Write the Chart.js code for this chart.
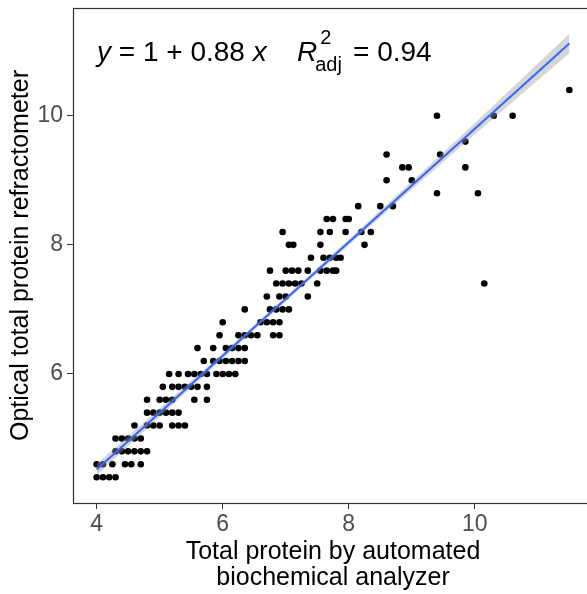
<!DOCTYPE html>
<html>
<head>
<meta charset="utf-8">
<script src="https://cdn.jsdelivr.net/npm/chart.js@4.4.1/dist/chart.umd.min.js"></script>
<style>
  html, body { margin: 0; padding: 0; background: #fff; overflow: hidden; }
  #wrap { width: 600px; height: 594px; }
</style>
</head>
<body>
<div id="wrap"><canvas id="myChart" width="600" height="594"></canvas></div>
<script>
// refractometer readings (y) come in 0.2 steps, analyzer values (x) listed per reading
const refractLevels = [4.4, 4.6, 4.8, 5.0, 5.2, 5.4, 5.6, 5.8, 6.0, 6.2, 6.4, 6.6, 6.8, 7.0,
  7.2, 7.4, 7.6, 7.8, 8.0, 8.2, 8.4, 8.6, 8.8, 9.0, 9.2, 9.4, 9.6, 10.0, 10.4];
const analyzerAtLevel = [
  [4.0, 4.1, 4.2, 4.3],
  [4.0, 4.1, 4.25, 4.45, 4.55, 4.7],
  [4.3, 4.4, 4.5, 4.6, 4.7, 4.8],
  [4.3, 4.4, 4.5, 4.6, 4.7],
  [4.6, 4.8, 4.9, 5.0, 5.2, 5.3, 5.4],
  [4.8, 4.9, 5.0, 5.1, 5.2, 5.3],
  [4.8, 5.0, 5.1, 5.2, 5.55, 5.75],
  [5.05, 5.2, 5.3, 5.4, 5.5, 5.6, 5.75],
  [5.15, 5.3, 5.45, 5.55, 5.65, 5.75, 5.9, 6.0, 6.1, 6.2],
  [5.7, 5.85, 5.95, 6.05, 6.15, 6.25, 6.35],
  [5.6, 5.85, 6.05, 6.15, 6.25, 6.35],
  [5.95, 6.25, 6.35, 6.45, 6.55, 6.8, 6.9],
  [6.0, 6.6, 6.7, 6.8, 6.9],
  [6.35, 6.75, 6.85, 6.95, 7.05],
  [6.7, 6.9, 7.0, 7.35],
  [6.85, 6.95, 7.05, 7.15, 7.25, 7.5, 10.15],
  [6.75, 7.0, 7.1, 7.2, 7.35, 7.55, 7.65, 7.75, 7.8],
  [7.4, 7.6, 7.7, 7.8, 7.87],
  [7.05, 7.12, 7.55, 8.25],
  [6.95, 7.55, 7.7, 7.95, 8.2, 8.35],
  [7.65, 7.75, 7.95, 8.0],
  [8.15, 8.5, 8.7],
  [9.4, 10.05],
  [8.6, 9.0],
  [8.85, 8.95, 9.85],
  [8.6, 9.45],
  [9.85],
  [9.4, 10.3, 10.6],
  [11.5]
];

// fitted line y = 1 + 0.88x and its confidence band
const fitX = [4.0, 5.0, 6.0, 7.0, 8.0, 9.0, 10.0, 11.0, 11.5];
const fitY = [4.52, 5.40, 6.28, 7.16, 8.04, 8.92, 9.80, 10.68, 11.12];
const bandLow = [4.43, 5.335, 6.24, 7.125, 7.995, 8.86, 9.71, 10.55, 10.97];
const bandHigh = [4.61, 5.465, 6.32, 7.195, 8.085, 8.98, 9.89, 10.81, 11.27];

const xTicks = [4, 6, 8, 10];
const yTicks = [6, 8, 10];

const FONT = '"Liberation Sans", Arial, sans-serif';

const points = [];
refractLevels.forEach((y, i) => {
  analyzerAtLevel[i].forEach((x) => points.push({ x: x, y: y }));
});
const toXY = (xs, ys) => xs.map((x, i) => ({ x: x, y: ys[i] }));

const panelBox = {
  id: 'panelBox',
  afterDatasetsDraw(chart) {
    const { ctx, chartArea: a } = chart;
    ctx.save();
    ctx.strokeStyle = '#333333';
    ctx.lineWidth = 1.2;
    ctx.strokeRect(a.left + 0.5, a.top + 0.5, a.right - a.left, a.bottom - a.top);
    ctx.restore();
  }
};

const eqLabel = {
  id: 'eqLabel',
  afterDraw(chart) {
    const c = chart.ctx;
    c.save();
    c.fillStyle = '#000';
    c.textBaseline = 'alphabetic';
    const base = 61;
    let x = 97;
    const parts = [['y', 'italic'], [' = 1 + 0.88 ', 'normal'], ['x', 'italic']];
    parts.forEach(([t, st]) => {
      c.font = st + ' 28px ' + FONT;
      c.fillText(t, x, base);
      x += c.measureText(t).width;
    });
    x = 297;
    c.font = 'italic 28px ' + FONT;
    c.fillText('R', x, base);
    const rw = c.measureText('R').width;
    c.font = '20px ' + FONT;
    c.fillText('2', x + rw + 3, base - 17);
    c.fillText('adj', x + rw - 2, base + 10);
    c.font = '28px ' + FONT;
    c.fillText('= 0.94', 353, base);
    c.restore();
  }
};

const ctx = document.getElementById('myChart');

const myChart = new Chart(ctx, {
  type: 'scatter',
  plugins: [panelBox, eqLabel],
  data: {
    datasets: [
      {
        label: 'samples',
        data: points,
        backgroundColor: '#000000',
        borderWidth: 0,
        pointRadius: 3.3,
        order: 3,
      },
      {
        label: 'band high',
        data: toXY(fitX, bandHigh),
        showLine: true,
        fill: '+1',
        backgroundColor: 'rgba(153,153,153,0.4)',
        borderWidth: 0,
        pointRadius: 0,
        order: 1,
      },
      {
        label: 'band low',
        data: toXY(fitX, bandLow),
        showLine: true,
        fill: false,
        borderWidth: 0,
        pointRadius: 0,
        order: 1,
      },
      {
        label: 'fit',
        data: toXY(fitX, fitY),
        showLine: true,
        borderColor: '#3366FF',
        borderWidth: 2,
        pointRadius: 0,
        order: 0,
      },
    ],
  },
  options: {
    responsive: false,
    animation: false,
    devicePixelRatio: 1,
    layout: { padding: { left: 0, right: 7, top: 8, bottom: 0 } },
    plugins: {
      legend: { display: false },
      tooltip: { enabled: false },
    },
    scales: {
      x: {
        type: 'linear',
        min: 3.625,
        max: 11.875,
        afterBuildTicks: (s) => { s.ticks = xTicks.map((v) => ({ value: v })); },
        afterFit: (s) => { s.height = 91; s.paddingLeft = 0; s.paddingRight = 0; },
        ticks: {
          font: { size: 23, family: FONT },
          color: '#4D4D4D',
          padding: 2,
          maxRotation: 0,
          autoSkip: false,
        },
        grid: { drawOnChartArea: false, drawTicks: true, tickLength: 6, color: '#333333' },
        border: { display: false },
        title: {
          display: true,
          text: ['Total protein by automated', 'biochemical analyzer'],
          color: '#000',
          font: { size: 25, family: FONT, lineHeight: 1.05 },
          padding: { top: 0, bottom: 3 },
        },
      },
      y: {
        type: 'linear',
        min: 4.0,
        max: 11.67,
        afterBuildTicks: (s) => { s.ticks = yTicks.map((v) => ({ value: v })); },
        afterFit: (s) => { s.width = 73; s.paddingTop = 0; s.paddingBottom = 0; },
        ticks: {
          font: { size: 23, family: FONT },
          color: '#4D4D4D',
          padding: 4,
        },
        grid: { drawOnChartArea: false, drawTicks: true, tickLength: 6, color: '#333333' },
        border: { display: false },
        title: {
          display: true,
          text: 'Optical total protein refractometer',
          color: '#000',
          font: { size: 25, family: FONT, lineHeight: 1.1 },
          padding: { top: 7, bottom: 0 },
        },
      },
    },
  },
});
</script>
</body>
</html>
